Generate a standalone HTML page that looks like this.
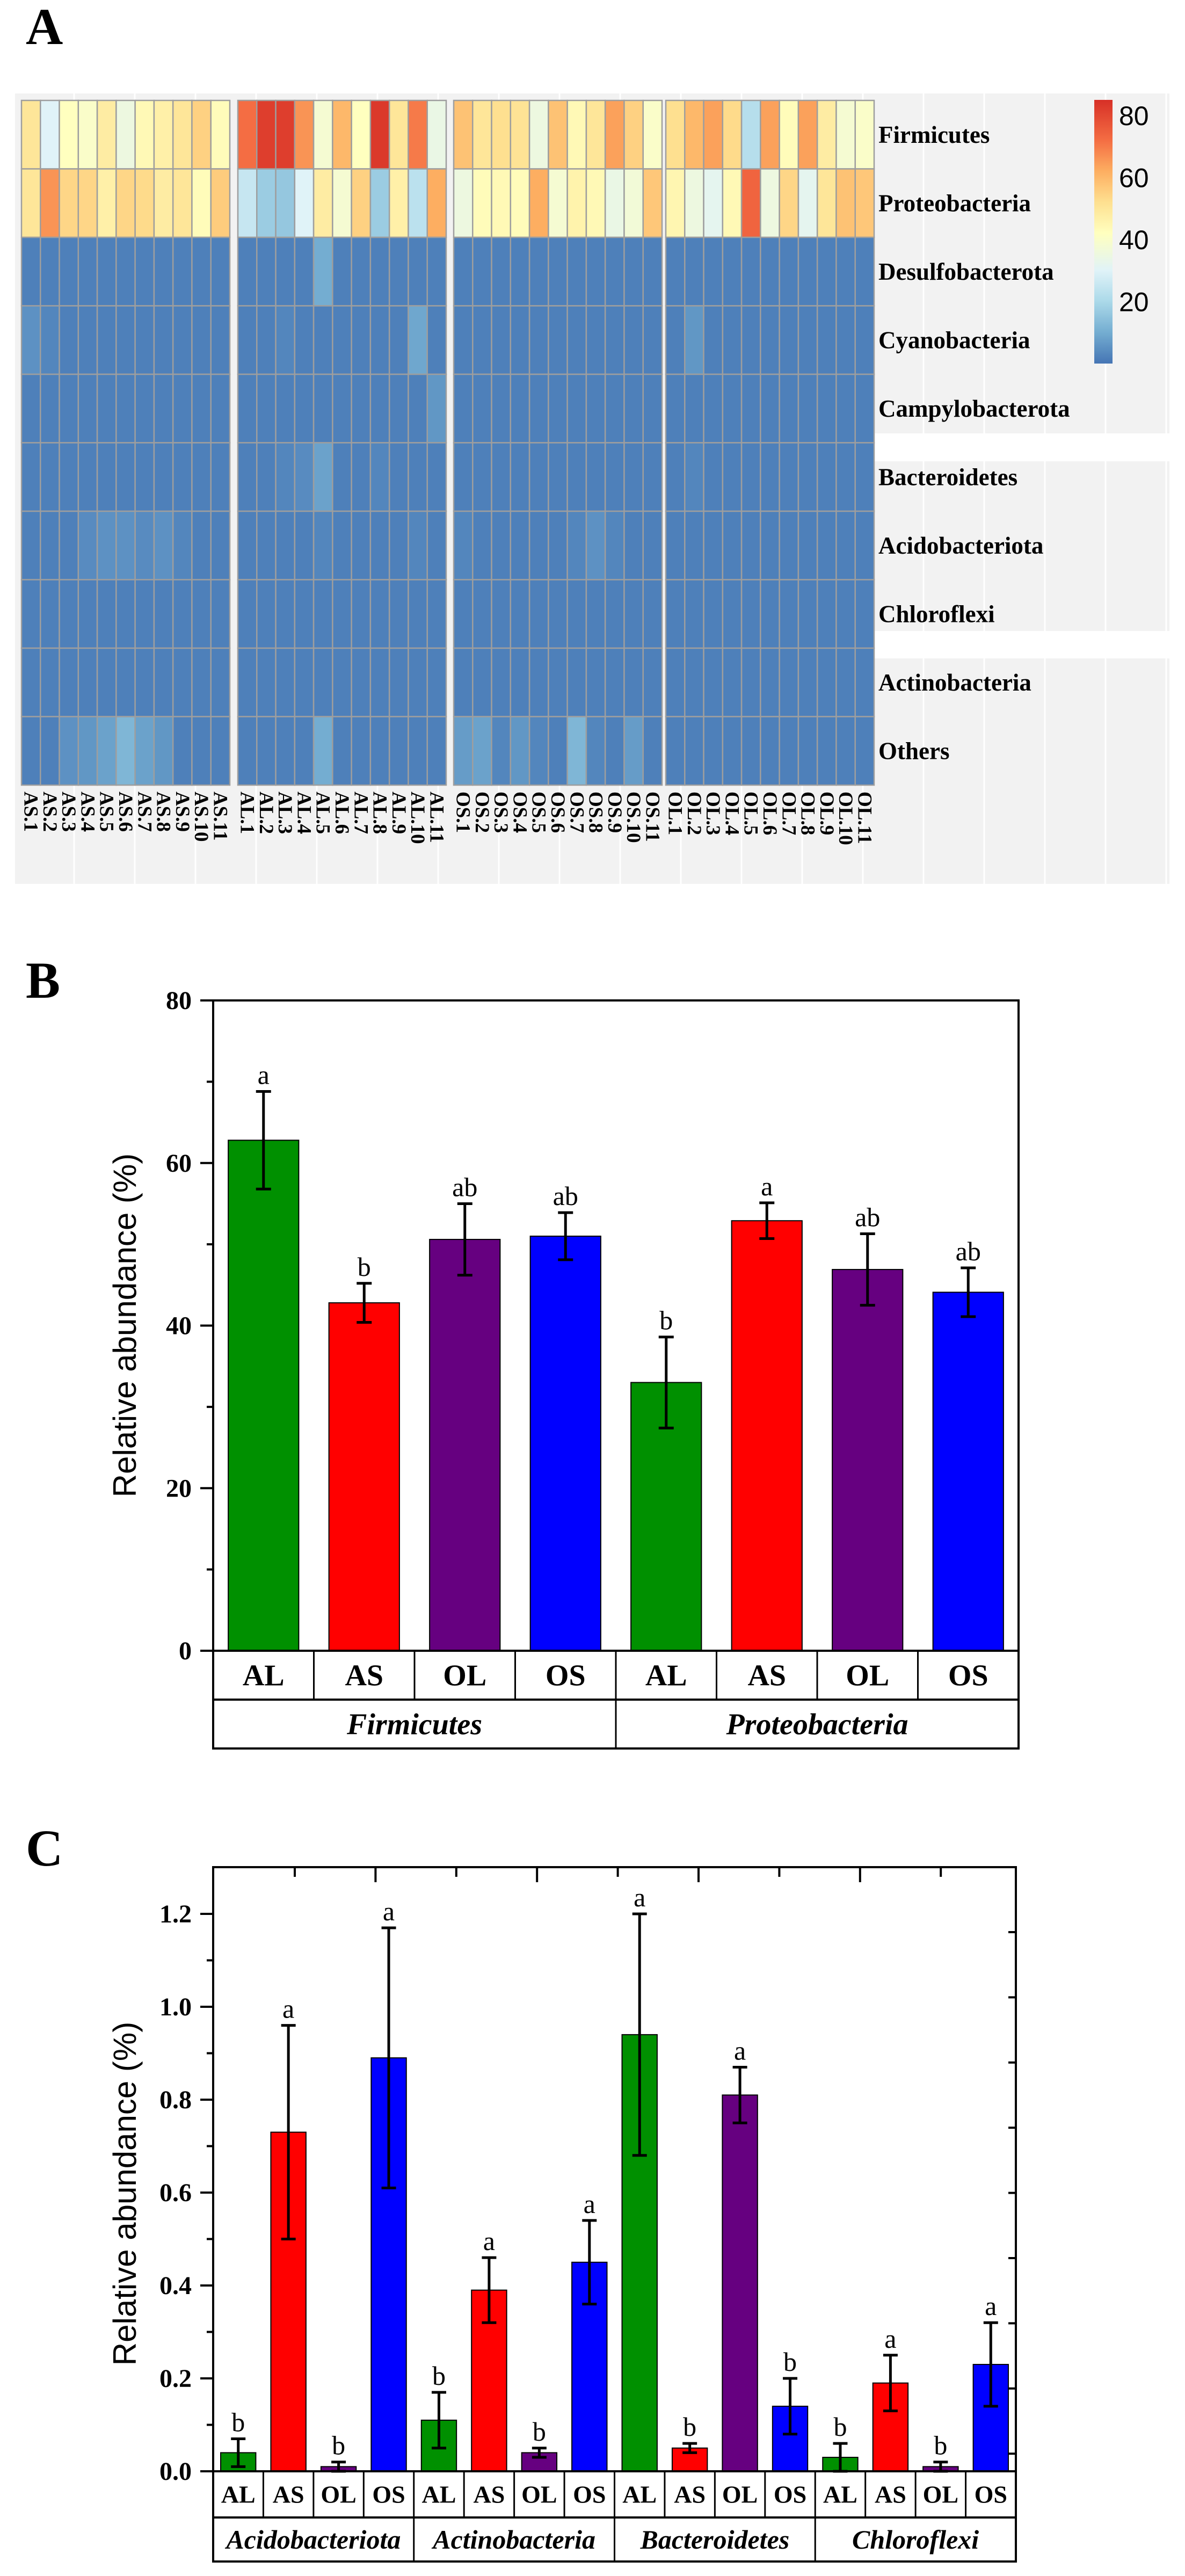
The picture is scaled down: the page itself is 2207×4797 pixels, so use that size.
<!DOCTYPE html>
<html><head><meta charset="utf-8">
<style>
html,body{margin:0;padding:0;background:#fff;}
svg{display:block;}
text{font-family:"Liberation Serif",serif;}
</style></head>
<body>
<svg id="fig" width="2207" height="4797" viewBox="0 0 2207 4797" xmlns="http://www.w3.org/2000/svg">
<rect x="0" y="0" width="2207" height="4797" fill="#fff"/>
<text x="48" y="82" font-size="96" font-weight="bold">A</text>
<text x="48" y="1858" font-size="96" font-weight="bold">B</text>
<text x="48" y="3474" font-size="96" font-weight="bold">C</text>
<g id="heat"></g>
<g id="chartB"></g>
<g id="chartC"></g>
</svg>
<script>
// ---------- Panel A data ----------
const heatRows = ["Firmicutes","Proteobacteria","Desulfobacterota","Cyanobacteria","Campylobacterota","Bacteroidetes","Acidobacteriota","Chloroflexi","Actinobacteria","Others"];
const heatGroups = ["AS","AL","OS","OL"];
const heatFirmicutes = [50,30,42,40,48,35,44,47,50,55,43, 72,82,82,66,38,60,42,83,50,70,34, 58,50,52,51,35,58,44,50,64,55,40, 52,60,64,53,22,64,43,64,48,38,40];
const heatProteo =     [50,66,54,54,47,54,53,48,50,43,56, 25,17,16,30,48,38,55,17,47,23,62, 35,43,44,43,62,38,46,44,34,37,57, 45,35,32,44,74,35,54,32,50,58,57];
const heatDesulfo =    [2,2,2,2,2,2,2,2,2,2,2, 2,2,2,2,10,2,2,2,2,2,2, 2,2,2,2,2,2,2,2,2,2,2, 2,2,2,2,2,2,2,2,2,2,2];
const heatCyano =      [5,3,2,2,2,2,2,2,2,2,2, 2,2,3,2,2,2,2,2,2,9,2, 2,2,2,2,2,2,2,2,2,2,2, 2,6,2,2,2,2,2,2,2,2,2];
const heatCampylo =    [2,2,2,2,2,2,2,2,2,2,2, 2,2,2,2,2,2,2,2,2,2,6, 2,2,2,2,2,2,2,2,2,2,2, 2,2,2,2,2,2,2,2,2,2,2];
const heatBactero =    [2,2,2,2,2,2,2,2,2,2,2, 2,2,3,4,8,2,2,3,2,2,2, 2,2,2,2,2,2,2,2,2,2,2, 2,3,2,2,2,2,2,2,2,2,2];
const heatAcido =      [2,2,2,4,5,5,4,5,3,2,2, 2,2,2,2,3,2,2,2,2,3,2, 3,2,2,2,2,2,3,5,3,2,2, 2,2,2,2,2,2,2,2,2,2,2];
const heatChloro =     [2,2,2,2,2,2,2,2,2,2,2, 2,2,2,2,2,2,2,2,2,2,2, 2,2,2,2,2,2,2,2,2,2,2, 2,2,2,2,2,2,2,2,2,2,2];
const heatActino =     [2,2,2,2,2,2,2,2,2,2,2, 2,2,2,2,2,2,2,2,2,2,2, 2,2,2,2,2,2,2,2,2,2,2, 2,2,2,2,2,2,2,2,2,2,2];
const heatOthers =     [2,2,5,6,8,12,8,6,2,2,2, 2,2,2,2,10,2,2,2,2,2,2, 7,8,3,6,3,2,12,3,2,7,2, 2,2,2,2,2,2,2,2,2,2,2];
const colorbarTicks = [20,40,60,80];

// ---------- Panel B data ----------
const bCats = ["AL","AS","OL","OS","AL","AS","OL","OS"];
const bGroups = ["Firmicutes","Proteobacteria"];
const bValues = [62.8,42.8,50.6,51.0,33.0,52.9,46.9,44.1];
const bErr = [6.0,2.4,4.4,2.9,5.6,2.2,4.4,3.0];
const bLetters = ["a","b","ab","ab","b","a","ab","ab"];
const bTicks = [0,20,40,60,80];
const bMinor = [10,30,50,70];

// ---------- Panel C data ----------
const cCats = ["AL","AS","OL","OS","AL","AS","OL","OS","AL","AS","OL","OS","AL","AS","OL","OS"];
const cGroups = ["Acidobacteriota","Actinobacteria","Bacteroidetes","Chloroflexi"];
const cValues = [0.04,0.73,0.01,0.89, 0.11,0.39,0.04,0.45, 0.94,0.05,0.81,0.14, 0.03,0.19,0.01,0.23];
const cErr = [0.03,0.23,0.01,0.28, 0.06,0.07,0.01,0.09, 0.26,0.01,0.06,0.06, 0.03,0.06,0.01,0.09];
const cLetters = ["b","a","b","a","b","a","b","a","a","b","a","b","b","a","b","a"];
const cTicks = [0,0.2,0.4,0.6,0.8,1.0,1.2];
const cMinor = [0.1,0.3,0.5,0.7,0.9,1.1];

const colors = ["#009000","#ff0000","#660080","#0000ff"];
const NS = "http://www.w3.org/2000/svg";
function mk(parent, tag, attrs, txt){
  const e = document.createElementNS(NS, tag);
  for (const k in attrs) e.setAttribute(k, attrs[k]);
  if (txt !== undefined) e.textContent = txt;
  parent.appendChild(e);
  return e;
}

// ---------- Heatmap ----------
(function(){
  const g = document.getElementById('heat');
  const stops = [[0,[69,117,180]],[10,[116,173,209]],[20,[171,217,233]],[30,[224,243,248]],[42,[255,255,191]],[52,[254,224,144]],[62,[253,174,97]],[72,[244,109,67]],[85,[215,48,39]]];
  function col(v){
    if (v<=stops[0][0]) return 'rgb('+stops[0][1].join(',')+')';
    for (let i=1;i<stops.length;i++){
      if (v<=stops[i][0]){
        const a=stops[i-1], b=stops[i], t=(v-a[0])/(b[0]-a[0]);
        return 'rgb('+a[1].map((c,j)=>Math.round(c+(b[1][j]-c)*t)).join(',')+')';
      }
    }
    return 'rgb('+stops[stops.length-1][1].join(',')+')';
  }
  // background
  const bg = mk(g,'rect',{x:28,y:174,width:2150,height:1472,fill:'#f2f2f2'});
  
  
  for (let x=138; x<2178; x+=113){
    const l = mk(g,'line',{x1:x,y1:174,x2:x,y2:1646,stroke:'#ffffff','stroke-width':3});
    
    
  }
  const wb1 = mk(g,'rect',{x:1626,y:807,width:560,height:52,fill:'#fff'});
  
  
  const wb2 = mk(g,'rect',{x:1626,y:1175,width:560,height:51,fill:'#fff'});
  
  

  const data = [heatFirmicutes,heatProteo,heatDesulfo,heatCyano,heatCampylo,heatBactero,heatAcido,heatChloro,heatActino,heatOthers];
  const blockX = [40,443,845,1240];
  const blockW = 388;
  const cw = blockW/11;
  const top = 187, rh = 127.5;
  for (let r=0;r<data.length;r++){
    for (let i=0;i<data[r].length;i++){
      const b = Math.floor(i/11), k = i%11;
      const c = mk(g,'rect',{x:blockX[b]+k*cw,y:top+r*rh,width:cw,height:rh,fill:col(data[r][i]),stroke:'#9e9e9e','stroke-width':2.5});
      
      
    }
    const t = mk(g,'text',{x:1636,y:top+r*rh+rh/2+15,'font-size':45,'font-weight':'bold'},heatRows[r]);
    
    
  }
  for (let b=0;b<4;b++){
    for (let k=0;k<11;k++){
      const cx = blockX[b]+k*cw+cw/2;
      const t = mk(g,'text',{x:0,y:0,'font-size':37,'font-weight':'bold',transform:'translate('+(cx-12)+',1474) rotate(90)'},heatGroups[b]+'.'+(k+1));
      
      
    }
  }
  // colorbar
  const defs = mk(g,'defs',{});
  const lg = mk(defs,'linearGradient',{id:'cbg',x1:0,y1:1,x2:0,y2:0});
  const vmax = 85;
  for (const s of stops){ mk(lg,'stop',{offset:(s[0]/vmax),'stop-color':col(s[0])}); }
  const cbTop = 186, cbBot = 677;
  const cbScale = v => cbBot - (v/vmax)*(cbBot-cbTop);
  const cb = mk(g,'rect',{x:2038,y:cbTop,width:34,height:cbBot-cbTop,fill:'url(#cbg)'});
  
  
  for (const v of colorbarTicks){
    const t = mk(g,'text',{x:2084,y:cbScale(v)+18,'font-size':50,style:'font-family:"Liberation Sans",sans-serif'},String(v));
    
    
  }
})();

function drawBar(gid, cfg){
  const g = document.getElementById(gid);
  const {x0,x1,yZero,yTop,ppu,cats,groups,values,errs,letters,ticks,minor,fmt,catFont,grpFont,catRowH,grpRowH,capW,titleY} = cfg;
  const n = cats.length, cw=(x1-x0)/n, bw=cw*0.70;
  const y = v => yZero - v*ppu;
  const xc = i => x0 + cw*i + cw/2;
  // bars
  for (let i=0;i<n;i++){
    const v=values[i], e=errs[i];
    const r = mk(g,'rect',{x:xc(i)-bw/2,y:y(v),width:bw,height:yZero-y(v),fill:colors[i%4],stroke:'#000','stroke-width':2});
    
    
    const hi=y(v+e), lo=y(Math.max(0,v-e));
    const eb = mk(g,'path',{d:'M'+xc(i)+' '+hi+'V'+lo+'M'+(xc(i)-capW/2)+' '+hi+'H'+(xc(i)+capW/2)+'M'+(xc(i)-capW/2)+' '+lo+'H'+(xc(i)+capW/2),stroke:'#000','stroke-width':5,fill:'none'});
    
    
    const lt = mk(g,'text',{x:xc(i),y:hi-14,'font-size':50,'text-anchor':'middle'},letters[i]);
    
    
  }
  // axis frame
  const fr = mk(g,'rect',{x:x0,y:yTop,width:x1-x0,height:yZero-yTop,fill:'none',stroke:'#000','stroke-width':4});
  
  
  for (const t of ticks){
    const tk = mk(g,'line',{x1:x0-24,y1:y(t),x2:x0,y2:y(t),stroke:'#000','stroke-width':4});
    
    
    const tl = mk(g,'text',{x:x0-40,y:y(t)+16,'font-size':48,'font-weight':'bold','text-anchor':'end'},fmt(t));
    
    
  }
  for (const t of minor){
    const tk = mk(g,'line',{x1:x0-12,y1:y(t),x2:x0,y2:y(t),stroke:'#000','stroke-width':4});
    
    
  }
  // category table
  const tb = mk(g,'rect',{x:x0,y:yZero,width:x1-x0,height:catRowH+grpRowH,fill:'none',stroke:'#000','stroke-width':4});
  
  
  mk(g,'line',{x1:x0,y1:yZero+catRowH,x2:x1,y2:yZero+catRowH,stroke:'#000','stroke-width':4});
  for (let i=1;i<n;i++){
    const full = (i%4===0);
    mk(g,'line',{x1:x0+cw*i,y1:yZero,x2:x0+cw*i,y2:yZero+catRowH+(full?grpRowH:0),stroke:'#000','stroke-width':3});
  }
  for (let i=0;i<n;i++){
    const t = mk(g,'text',{x:xc(i),y:yZero+catRowH/2+catFont*0.34,'font-size':catFont,'font-weight':'bold','text-anchor':'middle'},cats[i]);
    
    
  }
  const gw = (x1-x0)/groups.length;
  for (let j=0;j<groups.length;j++){
    const t = mk(g,'text',{x:x0+gw*j+gw/2,y:yZero+catRowH+grpRowH/2+grpFont*0.34,'font-size':grpFont,'font-weight':'bold','font-style':'italic','text-anchor':'middle'},groups[j]);
    
    
  }
  const yt = mk(g,'text',{x:0,y:0,'font-size':60,'text-anchor':'middle',style:'font-family:"Liberation Sans",sans-serif',transform:'translate(253,'+titleY+') rotate(-90)'},'Relative abundance (%)');
  
  
  return g;
}

drawBar('chartB',{x0:397,x1:1897,yZero:3074,yTop:1863,ppu:(3074-1863)/80,cats:bCats,groups:bGroups,values:bValues,errs:bErr,letters:bLetters,ticks:bTicks,minor:bMinor,fmt:v=>String(v),catFont:56,grpFont:56,catRowH:91,grpRowH:91,capW:28,titleY:2468});
const gC = drawBar('chartC',{x0:397,x1:1892,yZero:4602,yTop:3477,ppu:865,cats:cCats,groups:cGroups,values:cValues,errs:cErr,letters:cLetters,ticks:cTicks,minor:cMinor,fmt:v=>v.toFixed(1),catFont:46,grpFont:50,catRowH:86,grpRowH:82,capW:27,titleY:4085});
// decorative top / right ticks of panel C
for (let k=0;k<9;k++){
  const x = 549 + k*150.4;
  const t = mk(gC,'line',{x1:x,y1:3477,x2:x,y2:3477+(k%2===1?28:18),stroke:'#000','stroke-width':4});
  
  
}
for (let k=0;k<9;k++){
  const yy = 3598 + k*121.4;
  const t = mk(gC,'line',{x1:1892-14,y1:yy,x2:1892,y2:yy,stroke:'#000','stroke-width':4});
  
  
}
</script>
</body></html>
